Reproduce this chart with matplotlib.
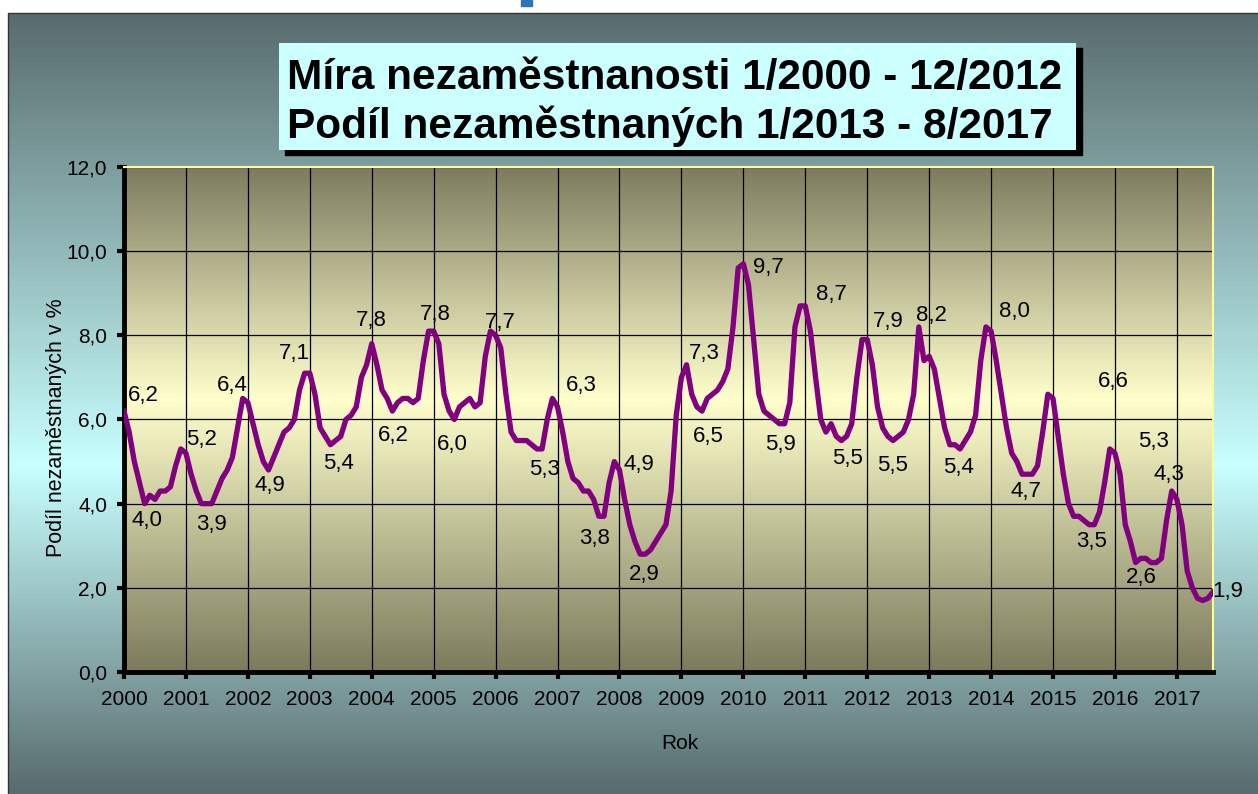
import numpy as np
import matplotlib
matplotlib.use("Agg")
import matplotlib.pyplot as plt
from matplotlib.colors import LinearSegmentedColormap
from matplotlib.patches import Rectangle
from matplotlib.ticker import FuncFormatter

# monthly values, 1/2000 - 8/2017
years = list(range(2000, 2018))
v2000 = [6.2, 5.7, 5.0, 4.5, 4.0, 4.2, 4.1, 4.3, 4.3, 4.4, 4.9, 5.3]
v2001 = [5.2, 4.7, 4.3, 4.0, 4.0, 4.0, 4.3, 4.6, 4.8, 5.1, 5.8, 6.5]
v2002 = [6.4, 5.9, 5.4, 5.0, 4.8, 5.1, 5.4, 5.7, 5.8, 6.0, 6.7, 7.1]
v2003 = [7.1, 6.6, 5.8, 5.6, 5.4, 5.5, 5.6, 6.0, 6.1, 6.3, 7.0, 7.3]
v2004 = [7.8, 7.3, 6.7, 6.5, 6.2, 6.4, 6.5, 6.5, 6.4, 6.5, 7.4, 8.1]
v2005 = [8.1, 7.8, 6.6, 6.2, 6.0, 6.3, 6.4, 6.5, 6.3, 6.4, 7.5, 8.1]
v2006 = [8.0, 7.7, 6.6, 5.7, 5.5, 5.5, 5.5, 5.4, 5.3, 5.3, 6.0, 6.5]
v2007 = [6.3, 5.7, 5.0, 4.6, 4.5, 4.3, 4.3, 4.1, 3.7, 3.7, 4.5, 5.0]
v2008 = [4.8, 4.1, 3.5, 3.1, 2.8, 2.8, 2.9, 3.1, 3.3, 3.5, 4.3, 6.1]
v2009 = [7.0, 7.3, 6.6, 6.3, 6.2, 6.5, 6.6, 6.7, 6.9, 7.2, 8.2, 9.6]
v2010 = [9.7, 9.2, 7.9, 6.6, 6.2, 6.1, 6.0, 5.9, 5.9, 6.4, 8.2, 8.7]
v2011 = [8.7, 8.1, 7.0, 6.0, 5.7, 5.9, 5.6, 5.5, 5.6, 5.9, 7.0, 7.9]
v2012 = [7.9, 7.3, 6.3, 5.8, 5.6, 5.5, 5.6, 5.7, 6.0, 6.6, 8.2, 7.4]
v2013 = [7.5, 7.2, 6.5, 5.8, 5.4, 5.4, 5.3, 5.5, 5.7, 6.1, 7.4, 8.2]
v2014 = [8.1, 7.4, 6.6, 5.8, 5.2, 5.0, 4.7, 4.7, 4.7, 4.9, 5.7, 6.6]
v2015 = [6.5, 5.6, 4.7, 4.0, 3.7, 3.7, 3.6, 3.5, 3.5, 3.8, 4.5, 5.3]
v2016 = [5.2, 4.7, 3.5, 3.1, 2.6, 2.7, 2.7, 2.6, 2.6, 2.7, 3.6, 4.3]
v2017 = [4.1, 3.5, 2.4, 2.0, 1.75, 1.7, 1.75, 1.9]

values = (v2000 + v2001 + v2002 + v2003 + v2004 + v2005 + v2006 + v2007 + v2008
          + v2009 + v2010 + v2011 + v2012 + v2013 + v2014 + v2015 + v2016 + v2017)

# hand placed value labels: text, month index, level
labels = [("6,2", 3.75, 6.58), ("4,0", 4.4, 3.59), ("5,2", 15.05, 5.52), ("3,9", 17.0, 3.5),
          ("6,4", 20.9, 6.8), ("4,9", 28.3, 4.44), ("7,1", 33.1, 7.56), ("5,4", 41.5, 4.96),
          ("7,8", 48.0, 8.35), ("6,2", 52.1, 5.63), ("7,8", 60.3, 8.5), ("6,0", 63.7, 5.4),
          ("7,7", 72.9, 8.3), ("5,3", 81.5, 4.8), ("6,3", 88.6, 6.81), ("3,8", 91.1, 3.18),
          ("4,9", 99.8, 4.93), ("2,9", 100.8, 2.31), ("7,3", 112.5, 7.57), ("6,5", 113.2, 5.6),
          ("9,7", 124.9, 9.61), ("5,9", 127.1, 5.4), ("8,7", 137.0, 8.98), ("5,5", 140.1, 5.07),
          ("7,9", 148.0, 8.32), ("5,5", 148.9, 4.91), ("8,2", 156.5, 8.48), ("5,4", 161.7, 4.87),
          ("8,0", 172.5, 8.56), ("4,7", 174.7, 4.29), ("6,6", 191.6, 6.91), ("3,5", 187.5, 3.1),
          ("5,3", 199.5, 5.48), ("2,6", 197.2, 2.25), ("4,3", 202.5, 4.69), ("1,9", 213.8, 1.91)]

title1 = "Míra nezaměstnanosti 1/2000 - 12/2012"
title2 = "Podíl nezaměstnaných 1/2013 - 8/2017"

plt.rcParams['font.family'] = ['Liberation Sans', 'DejaVu Sans']

W, H = 1258, 794
fig = plt.figure(figsize=(W / 100, H / 100), dpi=100)
fig.patch.set_facecolor('white')

# background panel in pixel coords
bg = fig.add_axes([0, 0, 1, 1])
bg.set_xlim(0, W)
bg.set_ylim(H, 0)
bg.axis('off')
bg_cmap = LinearSegmentedColormap.from_list(
    'bg', [(0, '#586b6d'), (0.58, '#c8ffff'), (1, '#586b6d')])
bg.imshow(np.linspace(0, 1, 256).reshape(-1, 1), extent=[8, W, H, 13],
          cmap=bg_cmap, aspect='auto', zorder=0)
bg.plot([8, 8, W], [H, 13, 13], color='#333333', lw=1, zorder=1)
bg.add_patch(Rectangle((521, 0), 11, 6, color='#2e75b6', zorder=1))

# title box with shadow
bg.add_patch(Rectangle((285, 48), 797, 107, color='black', zorder=2))
bg.add_patch(Rectangle((279, 43), 797, 107, facecolor='#ccffff', edgecolor='none', zorder=3))
bg.text(287, 89, title1, fontsize=30.5, fontweight='bold',
        ha='left', va='baseline', zorder=4)
bg.text(287, 138, title2, fontsize=30.5, fontweight='bold',
        ha='left', va='baseline', zorder=4)

months = np.arange(len(values))
ax = fig.add_axes([124 / W, 1 - 672 / H, (1213 - 124) / W, (672 - 167) / H])
ax.set_xlim(0, months[-1])
ax.set_ylim(0, 12)

plot_cmap = LinearSegmentedColormap.from_list(
    'plot', [(0, '#7b7a5c'), (0.54, '#ffffcc'), (1, '#7d7b5e')])
ax.imshow(np.linspace(0, 1, 256).reshape(-1, 1), extent=[0, months[-1], 0, 12],
          origin='lower', cmap=plot_cmap, aspect='auto', zorder=0)

ax.plot(months, values, color='#800080', lw=3.8, solid_joinstyle='round', zorder=3)

for t, m, v in labels:
    ax.text(m, v, t, fontsize=16, ha='center', va='center', zorder=4)

ax.set_xticks(months[::12])
ax.set_xticklabels([str(y) for y in years])
ax.set_yticks(np.arange(0, 13, 2))
ax.yaxis.set_major_formatter(FuncFormatter(lambda v, _: f"{v:.1f}".replace('.', ',')))
ax.grid(True, color='black', lw=0.9)

for s in ['left', 'bottom']:
    ax.spines[s].set_color('black')
    ax.spines[s].set_linewidth(3.5)
for s in ['top', 'right']:
    ax.spines[s].set_color('#ffff99')
    ax.spines[s].set_linewidth(1.5)

ax.tick_params(axis='both', direction='out', length=5, width=3, labelsize=15)
ax.tick_params(axis='x', pad=8)
ax.tick_params(axis='y', pad=7)

ax.set_ylabel("Podíl nezaměstnaných v %", fontsize=15.5)
ax.yaxis.set_label_coords(-0.052, 0.483)
ax.set_xlabel("Rok", fontsize=15)
ax.xaxis.set_label_coords(0.51, -0.122)

fig.savefig("out.png", dpi=100)
